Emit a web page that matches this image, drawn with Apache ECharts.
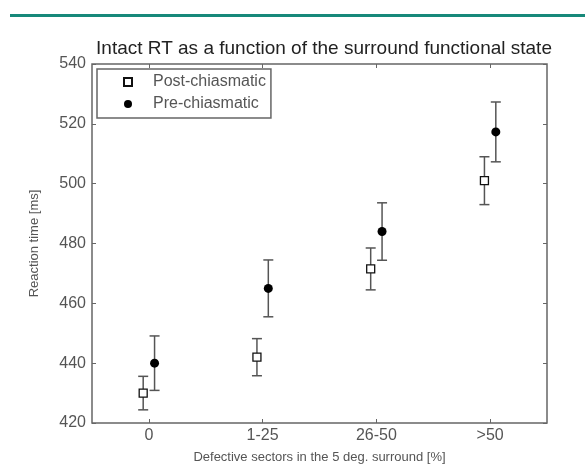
<!DOCTYPE html>
<html lang="en">
<head>
    <meta charset="UTF-8">
    <title>Intact RT as a function of the surround functional state</title>
    <script type="text/javascript" src="https://cdn.jsdelivr.net/npm/echarts@6/dist/echarts.min.js"></script>
    <style>
        html, body { margin: 0; padding: 0; background: #fff; }
    </style>
</head>
<body>
    <div id="main" style="width: 585px;height:475px;"></div>
    <script type="text/javascript">
        // categories on the x axis
        const categories = ['0', '1-25', '26-50', '>50'];
        // mean reaction time (ms) and error (half bar length)
        const postMean = [430, 442, 471.5, 501];
        const postErr = [5.6, 6.2, 7, 8];
        const preMean = [440, 465, 484, 517.3];
        const preErr = [9.1, 9.5, 9.6, 10];
        const yTicks = [420, 440, 460, 480, 500, 520, 540];

        const dodge = 0.05;
        const gray = '#555';
        const font = 'Liberation Sans';

        function points(means, errs, shift) {
            return means.map(function (m, i) {
                return [i + shift, m, m - errs[i], m + errs[i]];
            });
        }
        const postData = points(postMean, postErr, -dodge);
        const preData = points(preMean, preErr, dodge);

        // error bar drawn through the axes
        function errorBar(params, api) {
            const x = api.value(0);
            const lo = api.coord([x, api.value(2)]);
            const hi = api.coord([x, api.value(3)]);
            const cap = 5;
            const style = { stroke: gray, lineWidth: 1.5 };
            return {
                type: 'group',
                children: [
                    { type: 'line', shape: { x1: lo[0], y1: lo[1], x2: hi[0], y2: hi[1] }, style: style },
                    { type: 'line', shape: { x1: lo[0] - cap, y1: lo[1], x2: lo[0] + cap, y2: lo[1] }, style: style },
                    { type: 'line', shape: { x1: hi[0] - cap, y1: hi[1], x2: hi[0] + cap, y2: hi[1] }, style: style }
                ]
            };
        }

        const myChart = echarts.init(document.getElementById('main'));
        const yMin = yTicks[0], yMax = yTicks[yTicks.length - 1], yStep = yTicks[1] - yTicks[0];
        const tick = { show: true, inside: true, length: 4, lineStyle: { color: '#666' } };
        const option = {
            backgroundColor: '#fff',
            animation: false,
            title: {
                text: 'Intact RT as a function of the surround functional state',
                left: 319,
                top: 34,
                textAlign: 'center',
                textStyle: { fontFamily: font, fontSize: 19, fontWeight: 'normal', color: '#222' }
            },
            graphic: [{
                type: 'rect',
                shape: { x: 10, y: 14, width: 575, height: 3 },
                style: { fill: '#17897a' }
            }],
            legend: {
                orient: 'vertical',
                left: 97,
                top: 69,
                padding: [5, 5, 6, 26],
                itemGap: 6,
                itemWidth: 8,
                itemHeight: 8,
                borderColor: '#666',
                borderWidth: 1.5,
                textStyle: { fontFamily: font, fontSize: 16, color: '#555', padding: [0, 0, 0, 16] },
                data: ['Post-chiasmatic', 'Pre-chiasmatic']
            },
            grid: {
                left: 92, right: 38, top: 64, bottom: 52,
                show: true,
                borderColor: '#666',
                borderWidth: 1.5
            },
            xAxis: [{
                type: 'category',
                data: categories,
                position: 'bottom',
                name: 'Defective sectors in the 5 deg. surround [%]',
                nameLocation: 'middle',
                nameGap: 28,
                nameTextStyle: { fontFamily: font, fontSize: 13, color: '#555' },
                axisLine: { show: false, onZero: false },
                axisTick: Object.assign({ alignWithLabel: true }, tick),
                axisLabel: { fontFamily: font, fontSize: 16, color: '#555', margin: 5 },
                splitLine: { show: false }
            }, {
                type: 'category',
                data: categories,
                position: 'top',
                axisLine: { show: false, onZero: false },
                axisTick: Object.assign({ alignWithLabel: true }, tick),
                axisLabel: { show: false },
                splitLine: { show: false }
            }, {
                type: 'value',
                min: -0.5,
                max: categories.length - 0.5,
                show: false
            }],
            yAxis: [{
                type: 'value',
                min: yMin,
                max: yMax,
                interval: yStep,
                name: 'Reaction time [ms]',
                nameLocation: 'middle',
                nameGap: 51,
                nameTextStyle: { fontFamily: font, fontSize: 13, color: '#555' },
                axisLine: { show: false, onZero: false },
                axisTick: tick,
                axisLabel: { fontFamily: font, fontSize: 16, color: '#555', margin: 6 },
                splitLine: { show: false }
            }, {
                type: 'value',
                position: 'right',
                min: yMin,
                max: yMax,
                interval: yStep,
                axisLine: { show: false, onZero: false },
                axisTick: tick,
                axisLabel: { show: false },
                splitLine: { show: false }
            }],
            series: [{
                type: 'custom',
                name: 'post-err',
                xAxisIndex: 2,
                renderItem: errorBar,
                data: postData,
                z: 1
            }, {
                type: 'custom',
                name: 'pre-err',
                xAxisIndex: 2,
                renderItem: errorBar,
                data: preData,
                z: 1
            }, {
                type: 'scatter',
                name: 'Post-chiasmatic',
                xAxisIndex: 2,
                symbol: 'rect',
                symbolSize: 8,
                itemStyle: { color: '#fff', borderColor: '#111', borderWidth: 1.3, opacity: 1 },
                data: postData.map(function (d) { return [d[0], d[1]]; }),
                z: 3
            }, {
                type: 'scatter',
                name: 'Pre-chiasmatic',
                xAxisIndex: 2,
                symbol: 'circle',
                symbolSize: 9,
                itemStyle: { color: '#000', opacity: 1 },
                data: preData.map(function (d) { return [d[0], d[1]]; }),
                z: 3
            }]
        };
        myChart.setOption(option);
    </script>
</body>
</html>
